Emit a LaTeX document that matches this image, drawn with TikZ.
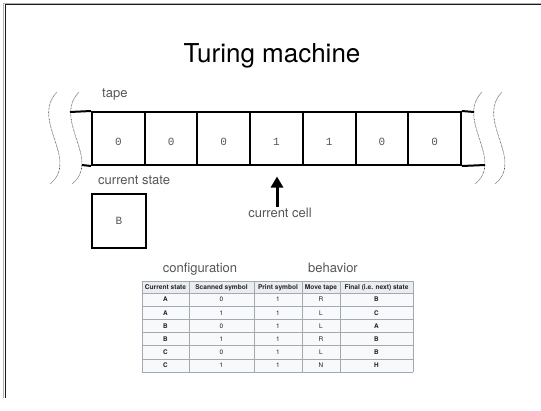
\documentclass[tikz,border=0pt]{standalone}
\usepackage{fontspec}
\setmainfont{TeX Gyre Heros}
\setmonofont{Liberation Mono}
\usetikzlibrary{arrows.meta}
\definecolor{lblgray}{HTML}{555555}
\definecolor{thbg}{HTML}{EAECF0}
\definecolor{tdbg}{HTML}{F8F9FA}
\definecolor{tbord}{HTML}{A2A9B1}
\definecolor{ttext}{HTML}{202122}
\begin{document}
\begin{tikzpicture}[x=1pt,y=-1pt,
  tapecell/.style={draw, line width=2pt, minimum width=52.7pt, minimum height=53pt,
    inner sep=0pt, text height=14pt, text depth=0pt,
    font=\ttfamily\fontsize{11}{13}\selectfont, text=lblgray},
  statebox/.style={draw, line width=2.5pt, minimum width=54pt, minimum height=54pt,
    inner sep=0pt, font=\ttfamily\fontsize{11}{13}\selectfont, text=lblgray},
  lbl/.style={font=\fontsize{13}{15}\selectfont, text=lblgray, inner sep=0pt},
  wave/.style={draw=black!70, line width=0.6pt, dash pattern=on 0.7pt off 0.7pt},
  tapeline/.style={line width=2pt},
  thtext/.style={font=\fontsize{6.6}{7}\selectfont\bfseries, text=ttext, inner sep=0pt, anchor=base},
  tdtext/.style={font=\fontsize{6.4}{7}\selectfont, text=ttext, inner sep=0pt, anchor=base},
  tdbold/.style={tdtext, font=\fontsize{6.4}{7}\selectfont\bfseries},
]
\useasboundingbox (0,0) rectangle (541,410);
% frame
\draw[black!30, line width=1.2pt] (3.8,398) -- (3.8,3.4) -- (541,3.4);
\draw[black!90, line width=1pt] (5.2,398) -- (5.2,4.6) -- (541,4.6);

% title
\node[font=\fontsize{26}{30}\selectfont, anchor=base, inner sep=0pt] (title) at (272,62) {Turing machine};

% waves
\foreach \dx/\nm in {0/wl1, 22/wl2, 425/wr1, 445/wr2}
  \draw[wave] (57+\dx,92) .. controls (30+\dx,120) and (80+\dx,160) .. (50+\dx,184);

% tape cells
\foreach \v [count=\i] in {0,0,0,1,1,0,0}
  \node[tapecell] (c\i) at ({118.35+52.7*(\i-1)},138.5) {\v};
\coordinate (tl) at (70,112);
\coordinate (tr) at (474,112);
\coordinate (bl) at (82,165);
\coordinate (br) at (485,165);
\draw[tapeline] (tl) -- (c1.north west);
\draw[tapeline] (c7.north east) -- (tr);
\draw[tapeline] (bl) -- (c1.south west);
\draw[tapeline] (c7.south east) -- (br);

% labels
\node[lbl, anchor=base west] (tape) at (102,97) {tape};
\node[lbl, anchor=base west] (cstate) at (98,184) {current state};
\node[statebox] (state) at (119,221) {B};
\node[lbl, anchor=base] (ccell) at (280,217.5) {current cell};
\coordinate (arrbase) at (277,207);
\coordinate (arrtip) at (277,176.5);
\draw[line width=3pt, -{Triangle[length=11pt,width=12pt]}] (arrbase) -- (arrtip);

\node[lbl, anchor=base] (config) at (200,272) {configuration};
\node[lbl, anchor=base] (behav) at (333,272) {behavior};

% table
\fill[thbg] (142,281) rectangle (413,293);
\fill[tdbg] (142,293) rectangle (413,372);
\foreach \x in {142,189,254,302,340,413}
  \draw[tbord, line width=0.6pt] (\x,281) -- (\x,372);
\foreach \y in {281,293,306.17,319.33,332.5,345.67,358.83,372}
  \draw[tbord, line width=0.6pt] (142,\y) -- (413,\y);

\foreach \t/\cx [count=\j] in {{Current state}/165.5, {Scanned symbol}/221.5, {Print symbol}/278, {Move tape}/321, {Final (i.e. next) state}/376.5}
  \node[thtext] (h\j) at (\cx,289.4) {\t};

\foreach \a/\b/\c/\d/\e [count=\i] in {A/0/1/R/B, A/1/1/L/C, B/0/1/L/A, B/1/1/R/B, C/0/1/L/B, C/1/1/N/H}{
  \pgfmathsetmacro{\ry}{293+13.17*(\i-0.5)+2.3}
  \node[tdbold] (r\i c1) at (165.5,\ry) {\a};
  \node[tdtext] (r\i c2) at (221.5,\ry) {\b};
  \node[tdtext] (r\i c3) at (278,\ry) {\c};
  \node[tdtext] (r\i c4) at (321,\ry) {\d};
  \node[tdbold] (r\i c5) at (376.5,\ry) {\e};
}
\end{tikzpicture}
\end{document}
